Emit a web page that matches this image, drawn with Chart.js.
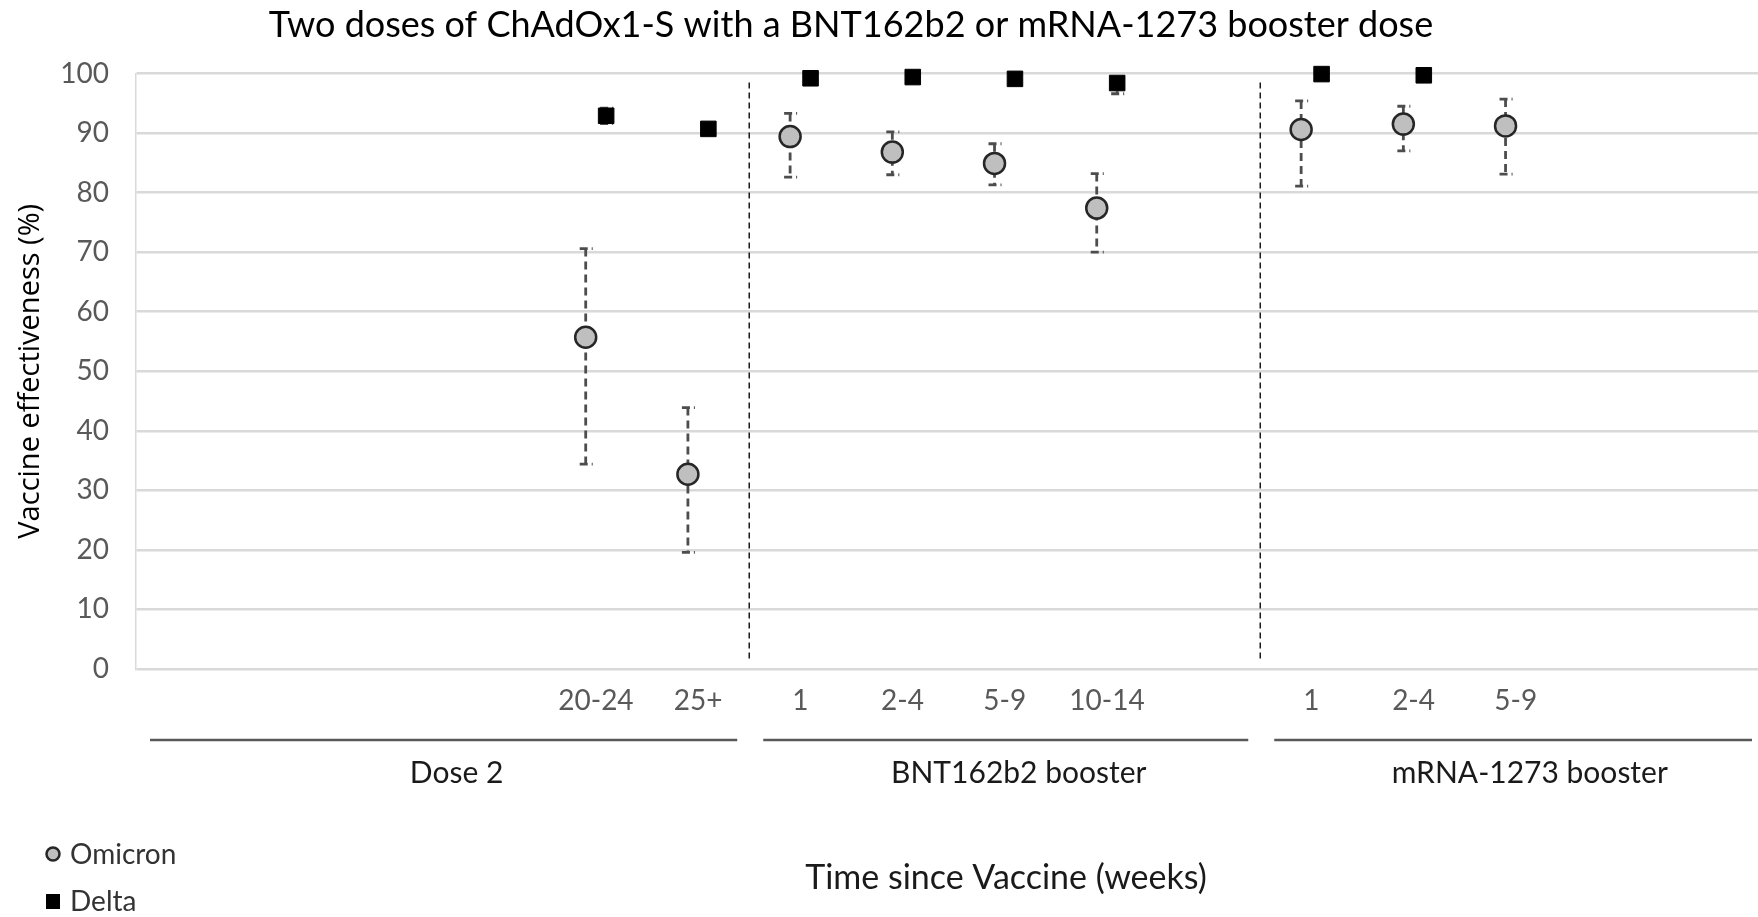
<!DOCTYPE html>
<html>
<head>
<meta charset="utf-8">
<title>Vaccine effectiveness by time since vaccine</title>
<script src="https://cdn.jsdelivr.net/npm/chart.js@4.4.1/dist/chart.umd.min.js"></script>
<style>
  html, body { margin: 0; padding: 0; background: #fff; }
  #wrap { width: 1758px; height: 917px; }
</style>
</head>
<body>
<div id="wrap"><canvas id="veChart" width="1758" height="917"></canvas></div>
<script>
// weeks since vaccine, one slot per category (blank slots have no estimate)
const categories = ["", "", "", "", "20-24", "25+", "1", "2-4", "5-9", "10-14", "", "1", "2-4", "5-9", "", ""];

// Omicron VE with 95% CI
const omicronVE = [null, null, null, null, 55.7, 32.7, 89.4, 86.8, 84.9, 77.4, null, 90.6, 91.5, 91.2, null, null];
const omicronLo = [null, null, null, null, 34.4, 19.6, 82.6, 83.0, 81.3, 70.0, null, 81.1, 87.0, 83.1, null, null];
const omicronHi = [null, null, null, null, 70.6, 43.9, 93.3, 90.2, 88.2, 83.2, null, 95.4, 94.5, 95.7, null, null];

// Delta VE with 95% CI
const deltaVE = [null, null, null, null, 92.9, 90.7, 99.2, 99.4, 99.1, 98.4, null, 99.9, 99.7, null, null, null];
const deltaLo = [null, null, null, null, 91.6, 90.1, 98.8, 99.1, 98.8, 96.6, null, 99.5, 99.3, null, null, null];
const deltaHi = [null, null, null, null, 94.2, 91.3, 99.5, 99.6, 99.3, 99.2, null, 100, 99.9, null, null, null];

// groups under the x axis
const groupLabels = ["Dose 2", "BNT162b2 booster", "mRNA-1273 booster"];
const groupStarts = [0, 6, 11];
const groupEnds = [5, 10, 15];

const yTicks = [0, 10, 20, 30, 40, 50, 60, 70, 80, 90, 100];

const chartTitle = "Two doses of ChAdOx1-S with a BNT162b2 or mRNA-1273 booster dose";

const SHIFT = 0.1; // Omicron a little left of the slot centre, Delta a little right

function toPoints(ve, lo, hi, shift) {
  const pts = [];
  ve.forEach(function (v, i) {
    if (v === null) return;
    pts.push({ x: i + shift, y: v, lo: lo[i], hi: hi[i] });
  });
  return pts;
}

// dashed error bars, drawn under the markers
const errorBars = {
  id: "errorBars",
  beforeDatasetsDraw(chart) {
    const ctx = chart.ctx;
    const y = chart.scales.y;
    ctx.save();
    ctx.strokeStyle = "#4d4d4d";
    ctx.lineWidth = 2.8;
    chart.data.datasets.forEach(function (ds, di) {
      const meta = chart.getDatasetMeta(di);
      meta.data.forEach(function (el, j) {
        const raw = ds.data[j];
        const top = y.getPixelForValue(raw.hi);
        const bot = y.getPixelForValue(raw.lo);
        ctx.setLineDash([8, 5]);
        ctx.beginPath();
        ctx.moveTo(el.x, top);
        ctx.lineTo(el.x, bot);
        ctx.stroke();
        ctx.setLineDash([8, 4]);
        [top, bot].forEach(function (py) {
          ctx.beginPath();
          ctx.moveTo(el.x - 6, py);
          ctx.lineTo(el.x + 7, py);
          ctx.stroke();
        });
      });
    });
    ctx.restore();
  }
};

// title, separators, group brackets, x title and legend
const decorations = {
  id: "decorations",
  afterDraw(chart) {
    const ctx = chart.ctx;
    const x = chart.scales.x;
    const y = chart.scales.y;
    const area = chart.chartArea;
    ctx.save();

    ctx.textAlign = "center";
    ctx.textBaseline = "middle";
    ctx.fillStyle = "#000";
    ctx.font = "36px Lato";
    ctx.fillText(chartTitle, 851, 25);

    // vertical dashed separators between groups
    ctx.strokeStyle = "#1a1a1a";
    ctx.lineWidth = 1.5;
    ctx.setLineDash([6, 4]);
    for (let g = 0; g < groupLabels.length - 1; g++) {
      const px = x.getPixelForValue((groupEnds[g] + groupStarts[g + 1]) / 2);
      ctx.beginPath();
      ctx.moveTo(px, y.getPixelForValue(98.5));
      ctx.lineTo(px, y.getPixelForValue(1.5));
      ctx.stroke();
    }
    ctx.setLineDash([]);

    // group lines and labels
    const lineY = area.bottom + 71;
    ctx.font = "30px Lato";
    ctx.fillStyle = "#1a1a1a";
    groupLabels.forEach(function (label, g) {
      const x0 = x.getPixelForValue(groupStarts[g] - 0.5) + 14;
      const x1 = Math.min(x.getPixelForValue(groupEnds[g] + 0.5) - 12, chart.width - 6);
      ctx.strokeStyle = "#595959";
      ctx.lineWidth = 2.5;
      ctx.beginPath();
      ctx.moveTo(x0, lineY);
      ctx.lineTo(x1, lineY);
      ctx.stroke();
      const cx = (x.getPixelForValue(groupStarts[g] - 0.5) + x.getPixelForValue(groupEnds[g] + 0.5)) / 2 + 14;
      ctx.fillText(label, cx, lineY + 33);
    });

    // x axis title
    ctx.font = "34px Lato";
    ctx.fillText("Time since Vaccine (weeks)", 1006, 878);

    // legend
    ctx.textAlign = "left";
    ctx.beginPath();
    ctx.arc(53, 854, 6.5, 0, Math.PI * 2);
    ctx.fillStyle = "#BFBFBF";
    ctx.fill();
    ctx.lineWidth = 2.5;
    ctx.strokeStyle = "#262626";
    ctx.stroke();
    ctx.fillStyle = "#000";
    ctx.fillRect(46, 894, 14, 15);
    ctx.font = "28px Lato";
    ctx.fillStyle = "#333";
    ctx.fillText("Omicron", 70, 855);
    ctx.fillText("Delta", 70, 902);

    ctx.restore();
  }
};

function drawChart() {
  const canvas = document.getElementById("veChart");
  new Chart(canvas, {
    type: "scatter",
    data: {
      datasets: [
        {
          label: "Omicron",
          data: toPoints(omicronVE, omicronLo, omicronHi, -SHIFT),
          pointStyle: "circle",
          pointRadius: 10.5,
          backgroundColor: "#BFBFBF",
          borderColor: "#262626",
          borderWidth: 2.5,
          clip: false
        },
        {
          label: "Delta",
          data: toPoints(deltaVE, deltaLo, deltaHi, SHIFT),
          pointStyle: "rect",
          pointRadius: 11,
          backgroundColor: "#000",
          borderColor: "#000",
          borderWidth: 1,
          clip: false
        }
      ]
    },
    options: {
      responsive: false,
      animation: false,
      devicePixelRatio: 1,
      layout: { autoPadding: false, padding: { top: 73.5, left: 0, bottom: 0, right: 0 } },
      events: [],
      plugins: {
        legend: { display: false },
        tooltip: { enabled: false },
        title: { display: false }
      },
      scales: {
        x: {
          type: "linear",
          min: -0.5,
          max: 15.37,
          grid: { display: false },
          border: { display: false },
          afterBuildTicks: function (axis) {
            axis.ticks = categories.map(function (c, i) { return { value: i }; });
          },
          afterFit: function (axis) { axis.height = 248; },
          ticks: {
            autoSkip: false,
            maxRotation: 0,
            padding: 7,
            color: "#595959",
            font: { family: "Lato", size: 28 },
            callback: function (value) { return categories[value]; }
          }
        },
        y: {
          min: 0,
          max: 100,
          afterBuildTicks: function (axis) {
            axis.ticks = yTicks.map(function (v) { return { value: v }; });
          },
          afterFit: function (axis) { axis.width = 136; },
          grid: { color: "#D9D9D9", lineWidth: 2.5, drawTicks: false },
          border: { display: true, color: "#D9D9D9", width: 1.5 },
          ticks: {
            padding: 27,
            color: "#595959",
            font: { family: "Lato", size: 28 }
          },
          title: {
            display: true,
            text: "Vaccine effectiveness (%)",
            color: "#000",
            font: { family: "Open Sans", size: 29 },
            padding: { top: 13, bottom: 0 }
          }
        }
      }
    },
    plugins: [errorBars, decorations]
  });
}

document.addEventListener("DOMContentLoaded", function () {
  Promise.all([
    document.fonts.load("30px Lato"),
    document.fonts.load('24px "Open Sans"')
  ]).then(drawChart, drawChart);
});
</script>
</body>
</html>
